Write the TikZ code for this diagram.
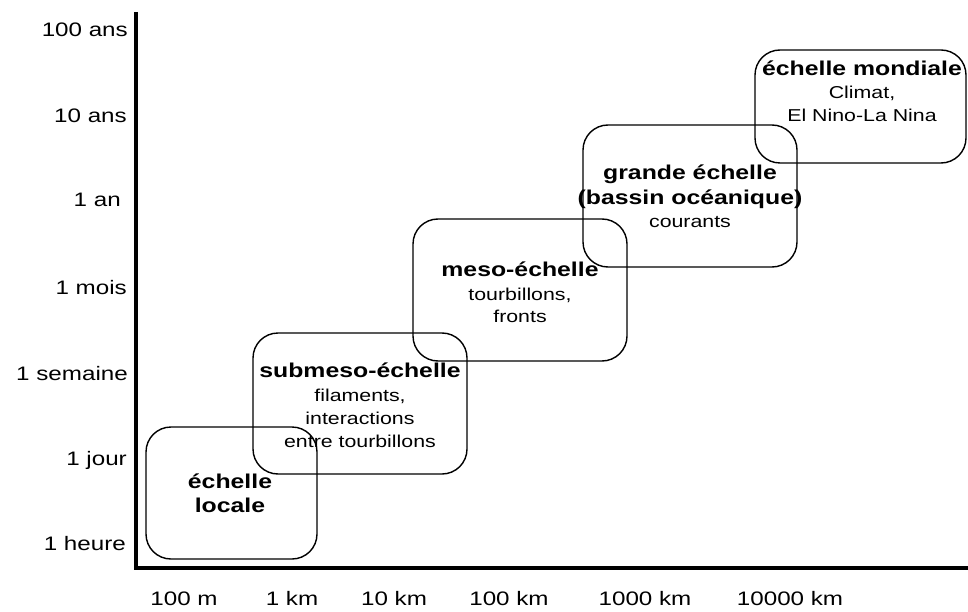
\documentclass[tikz,border=0pt]{standalone}
\usepackage{fontspec}
\setmainfont[FakeStretch=1.24]{Liberation Sans}
\begin{document}
\begin{tikzpicture}[x=1pt,y=-1pt,
  scalebox/.style={draw=black,line width=1.4pt,rounded corners=25pt},
  lbl/.style={font=\fontsize{19.5}{22}\selectfont,inner sep=0pt},
  ylbl/.style={lbl,anchor=base east},
  xlbl/.style={lbl,anchor=base},
  body/.style={inner sep=0pt,anchor=base,font=\fontsize{17.2}{20}\selectfont},
  ttl/.style={inner sep=0pt,anchor=base,font=\fontsize{20}{22}\selectfont\bfseries}]
\useasboundingbox (0,0) rectangle (968,612);
% axes
\coordinate (o) at (136,568);
\coordinate (ytop) at (136,12);
\coordinate (xend) at (968,568);
\draw[line width=3.4pt] (ytop) -- (o) -- (xend);
% y labels
\node[ylbl] (y1) at (128,37) {100 ans};
\node[ylbl] (y2) at (127,123) {10 ans};
\node[ylbl] (y3) at (121,207) {1 an};
\node[ylbl] (y4) at (127,294) {1 mois};
\node[ylbl] (y5) at (128,380) {1 semaine};
\node[ylbl] (y6) at (127,465) {1 jour};
\node[ylbl] (y7) at (126,550) {1 heure};
% x labels
\node[xlbl] (x1) at (184,605) {100 m};
\node[xlbl] (x2) at (292,605) {1 km};
\node[xlbl] (x3) at (394,605) {10 km};
\node[xlbl] (x4) at (509,605) {100 km};
\node[xlbl] (x5) at (645,605) {1000 km};
\node[xlbl] (x6) at (790,605) {10000 km};
% boxes
\draw[scalebox] (146,427) rectangle (317,559);
\draw[scalebox] (253,333) rectangle (467,474);
\draw[scalebox] (413,219) rectangle (627,361);
\draw[scalebox] (583,125) rectangle (797,267);
\draw[scalebox] (755,50) rectangle (966,163);
% échelle locale
\node[ttl] (loc1) at (230,488) {échelle};
\node[ttl] (loc2) at (230,512) {locale};
% submeso
\node[ttl] (sub1) at (360,377) {submeso-échelle};
\node[body] (sub2) at (360,401) {filaments,};
\node[body] (sub3) at (360,424) {interactions};
\node[body] (sub4) at (360,447) {entre tourbillons};
% meso
\node[ttl] (mes1) at (520,276) {meso-échelle};
\node[body] (mes2) at (520,300) {tourbillons,};
\node[body] (mes3) at (520,322) {fronts};
% grande
\node[ttl] (gr1) at (690,180) {grande échelle};
\node[ttl] (gr2) at (690,205) {(bassin océanique)};
\node[body] (gr3) at (690,228) {courants};
% mondiale
\node[ttl] (mo1) at (862,76) {échelle mondiale};
\node[body] (mo2) at (862,99) {Climat,};
\node[body] (mo3) at (862,122) {El Nino-La Nina};
\end{tikzpicture}
\end{document}
